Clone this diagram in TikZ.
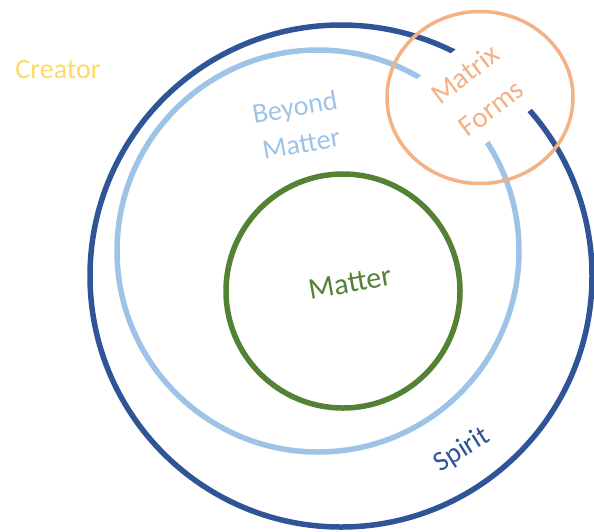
\documentclass[tikz,border=0pt]{standalone}
\usepackage{fontspec}
\setmainfont{Carlito}
\usetikzlibrary{positioning}
\definecolor{spiritblue}{HTML}{2F5597}
\definecolor{beyondblue}{HTML}{9DC3E6}
\definecolor{mattergreen}{HTML}{548235}
\definecolor{matrixorange}{HTML}{F4B183}
\definecolor{creatoryellow}{HTML}{FFD966}
\tikzset{ring/.style={line width=5.5pt}}
\tikzset{word/.style={font=\fontsize{28}{34}\selectfont, align=center, inner sep=0pt}}

\begin{document}
\begin{tikzpicture}[x=1pt, y=-1pt]
		\useasboundingbox (0,0) rectangle (594,531);
		% rings
		\draw[ring, spiritblue] (341,276) circle [radius=251];
		\draw[ring, beyondblue] (318,251) circle [radius=201];
		\draw[ring, mattergreen] (343,291) circle [radius=117];
		
		\node[word, creatoryellow] (creator) at (58,70) {Creator};
		\node[word, beyondblue, rotate=10] (beyond) at (298,125) {Beyond\\[3pt]Matter};
		\node[word, mattergreen, rotate=10, font=\fontsize{30}{36}\selectfont] (matter) at (350,283) {Matter};
		\node[word, spiritblue, rotate=32] (spirit) at (462,450) {Spirit};
		
		% matrix forms
		\node[word, matrixorange, rotate=37, fill=white, minimum width=100pt, minimum height=93pt, font=\fontsize{29}{35}\selectfont] (forms) at (478,91) {Matrix\\[8pt]Forms};
		\draw[line width=3.5pt, matrixorange] (480,97.5) ellipse [x radius=93, y radius=86];
	\end{tikzpicture}
\end{document}
